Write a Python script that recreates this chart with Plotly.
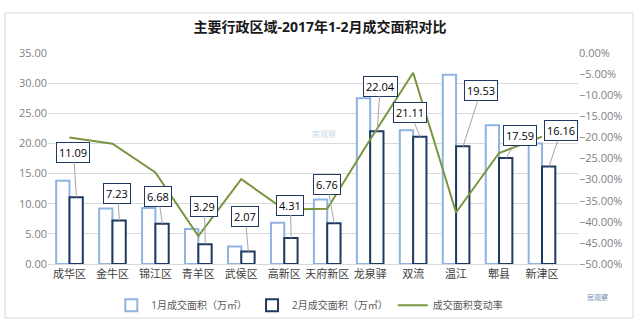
import plotly.graph_objects as go

categories = ["成华区", "金牛区", "锦江区", "青羊区", "武侯区", "高新区", "天府新区",
              "龙泉驿", "双流", "温江", "郫县", "新津区"]
jan_area = [13.8, 9.2, 9.3, 5.8, 2.9, 6.85, 10.7, 27.5, 22.2, 31.4, 23.0, 20.0]
feb_area = [11.09, 7.23, 6.68, 3.29, 2.07, 4.31, 6.76, 22.04, 21.11, 19.53, 17.59, 16.16]
change_rate = [-0.200, -0.215, -0.283, -0.434, -0.299, -0.371, -0.369,
               -0.205, -0.047, -0.378, -0.237, -0.198]

# label box offsets (pixels) from the Feb bar top
label_ax = [-3, -2, -4, -1, -3, -1, -7, 3, -10, 18, 14, 12]
label_ay = [-45, -27, -27, -38, -35, -33, -39, -45, -24, -56, -22, -36]

FONT = "Open Sans, Noto Sans CJK SC, sans-serif"

fig = go.Figure()
fig.add_trace(go.Bar(
    x=categories, y=jan_area, name="1月成交面积（万㎡）",
    marker=dict(color="white", line=dict(color="#8FB4E0", width=2)),
))
fig.add_trace(go.Bar(
    x=categories, y=feb_area, name="2月成交面积（万㎡）",
    marker=dict(color="white", line=dict(color="#1F3A60", width=2)),
))
fig.add_trace(go.Scatter(
    x=categories, y=change_rate, name="成交面积变动率", yaxis="y2",
    mode="lines", line=dict(color="#7A9440", width=2),
))

for c, v, ax, ay in zip(categories, feb_area, label_ax, label_ay):
    fig.add_annotation(
        x=c, y=v, xref="x", yref="y", xshift=7,
        text=f"{v:.2f}", showarrow=True, arrowhead=0, arrowwidth=1,
        arrowcolor="#A6A6A6", ax=ax, ay=ay, standoff=0,
        bgcolor="white", bordercolor="#1F3A60", borderwidth=1, borderpad=2,
        font=dict(family=FONT, size=11, color="#000000"),
    )

# watermark-ish faint text
fig.add_annotation(x=0.52, y=0.62, xref="paper", yref="paper", text="房观察",
                   showarrow=False, font=dict(family=FONT, size=8, color="#C8D8E8"))
fig.add_annotation(x=1.06, y=-0.19, xref="paper", yref="paper", text="房观察",
                   showarrow=False, font=dict(family=FONT, size=7, color="#6F8FB0"))

# outer border
fig.add_shape(type="rect", xref="paper", yref="paper",
              x0=-0.081, x1=1.104, y0=-0.256, y1=1.19,
              line=dict(color="#D9D9D9", width=1), layer="below")

fig.update_layout(
    width=640, height=332,
    margin=dict(l=48, r=62, t=53, b=64),
    paper_bgcolor="white", plot_bgcolor="white",
    barmode="group", bargap=0.38, bargroupgap=0,
    font=dict(family=FONT, size=11, color="#595959"),
    title=dict(text="<b>主要行政区域-2017年1-2月成交面积对比</b>",
               x=0.5, xanchor="center", y=0.918, yanchor="middle",
               font=dict(family=FONT, size=14, color="#1A1A1A")),
    xaxis=dict(showgrid=False, showline=True, linecolor="#D9D9D9",
               tickfont=dict(size=11, color="#404040"), ticks=""),
    yaxis=dict(range=[0, 35], dtick=5, tickformat=".2f", showgrid=True,
               gridcolor="#D9D9D9", zeroline=False,
               tickfont=dict(size=11, color="#7F7F7F")),
    yaxis2=dict(range=[-0.5, 0], dtick=0.05, tickformat=".2%", overlaying="y",
                side="right", showgrid=False, zeroline=False,
                tickfont=dict(size=11, color="#7F7F7F")),
    legend=dict(orientation="h", x=0.494, xanchor="center", y=-0.195,
                yanchor="middle", font=dict(size=10, color="#595959"),
                itemwidth=30, bgcolor="rgba(0,0,0,0)"),
    showlegend=True,
)

fig.write_html("out.html")
